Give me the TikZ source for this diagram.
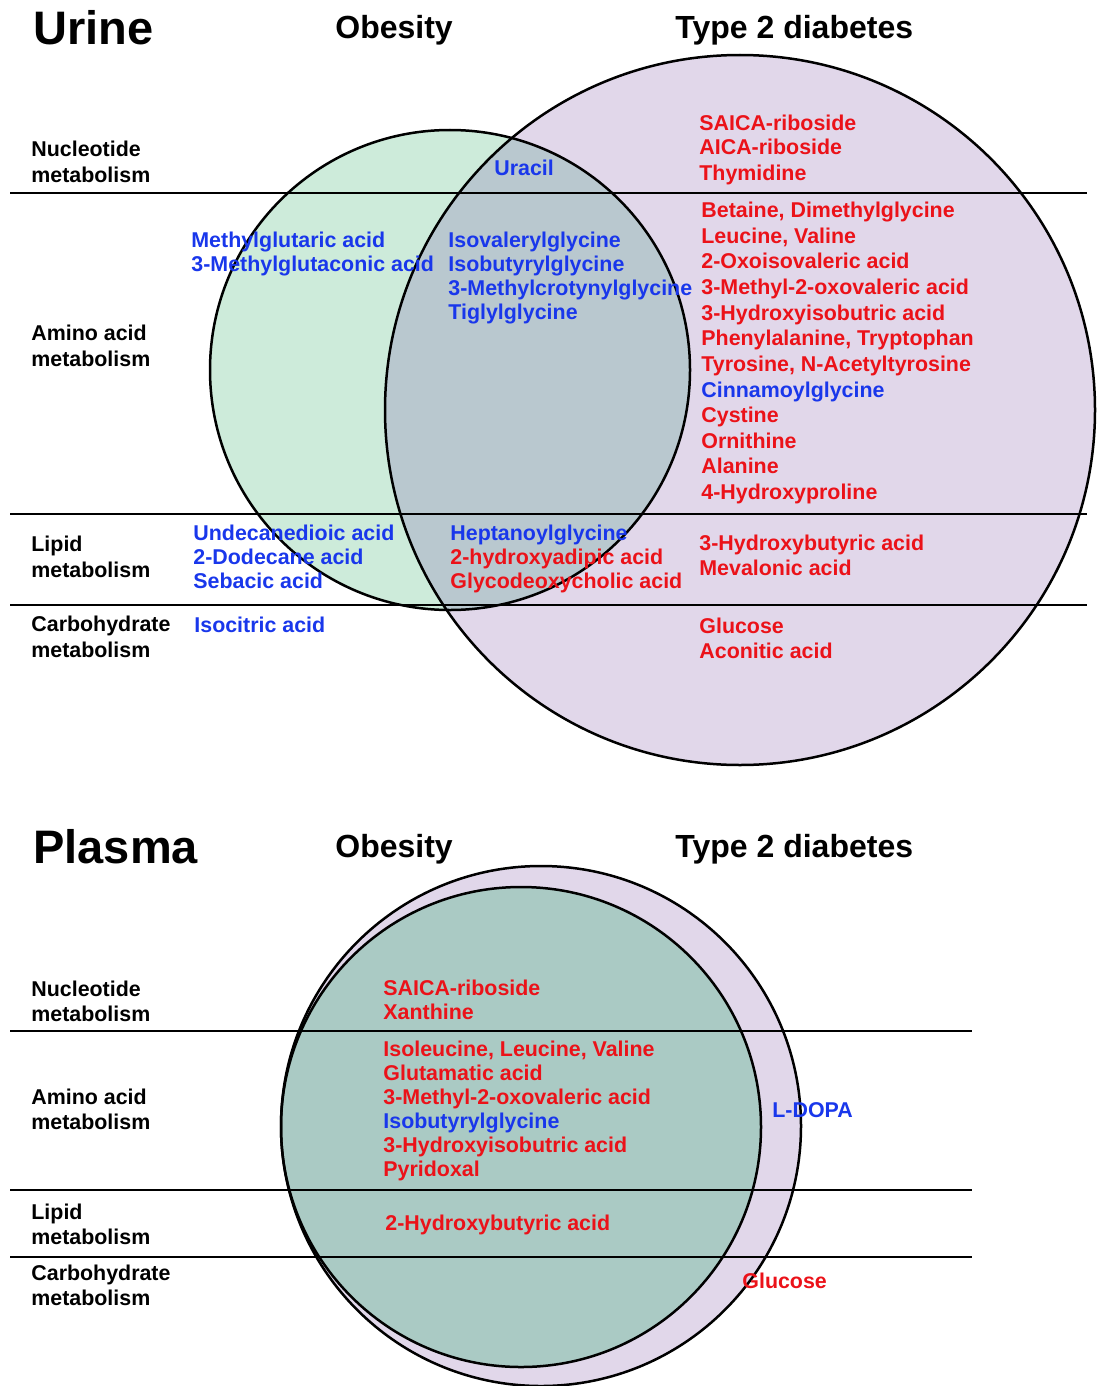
\documentclass[tikz,border=0pt]{standalone}
\usepackage{fontspec}
\setmainfont{Liberation Sans}
\definecolor{obgreen}{RGB}{205,235,218}
\definecolor{tdpurple}{RGB}{225,215,234}
\definecolor{ovlurine}{RGB}{185,200,207}
\definecolor{ovlplasma}{RGB}{170,202,196}
\definecolor{txtred}{RGB}{235,18,25}
\definecolor{txtblue}{RGB}{25,55,235}
\tikzset{
  body/.style={anchor=base west, inner sep=0pt, yshift=0.5pt, font=\fontsize{10.7}{13}\selectfont\bfseries},
  cat/.style={body, text=black},
  rtxt/.style={body, text=txtred},
  btxt/.style={body, text=txtblue},
  head/.style={anchor=base west, inner sep=0pt, font=\fontsize{16}{19}\selectfont\bfseries},
  bighead/.style={anchor=base west, inner sep=0pt, font=\fontsize{23.5}{28}\selectfont\bfseries},
  ring/.style={draw=black, line width=1.25pt},
  sep/.style={draw=black, line width=1pt}
}
\begin{document}
\begin{tikzpicture}[x=0.5pt,y=-0.5pt]
\useasboundingbox (0,0) rectangle (1099,1386);
% ---------------- URINE ----------------
\fill[obgreen] (450,370) circle (240);
\fill[tdpurple] (740,410) circle (355);
\begin{scope}
  \clip (450,370) circle (240);
  \fill[ovlurine] (740,410) circle (355);
\end{scope}
\draw[ring] (450,370) circle (240);
\draw[ring] (740,410) circle (355);
\coordinate (u1l) at (10,193); \coordinate (u1r) at (1087,193);
\coordinate (u2l) at (10,514); \coordinate (u2r) at (1087,514);
\coordinate (u3l) at (10,605); \coordinate (u3r) at (1087,605);
\draw[sep] (u1l) -- (u1r);
\draw[sep] (u2l) -- (u2r);
\draw[sep] (u3l) -- (u3r);

\node[bighead] (urine) at (33,45) {Urine};
\node[head] (uob) at (335,39) {Obesity};
\node[head] (utd) at (675,39) {Type 2 diabetes};

\node[cat] (un1) at (31,157) {Nucleotide};
\node[cat] (un2) at (31,183) {metabolism};
\node[cat] (ua1) at (31,341) {Amino acid};
\node[cat] (ua2) at (31,367) {metabolism};
\node[cat] (ul1) at (31,552) {Lipid};
\node[cat] (ul2) at (31,578) {metabolism};
\node[cat] (uc1) at (31,632) {Carbohydrate};
\node[cat] (uc2) at (31,658) {metabolism};

\node[btxt] (uracil) at (494,176) {Uracil};
\node[rtxt] (usaica) at (699,132) {SAICA-riboside};
\node[rtxt] (uaica) at (699,156) {AICA-riboside};
\node[rtxt] (uthy) at (699,181) {Thymidine};

\node[btxt] (umga) at (191,248) {Methylglutaric acid};
\node[btxt] (umgca) at (191,272) {3-Methylglutaconic acid};

\node[btxt] (uiva) at (448,248) {Isovalerylglycine};
\node[btxt] (uiby) at (448,272) {Isobutyrylglycine};
\node[btxt] (umcg) at (448,296) {3-Methylcrotynylglycine};
\node[btxt] (utig) at (448,320) {Tiglylglycine};

\node[rtxt] (ubet) at (701,218) {Betaine, Dimethylglycine};
\node[rtxt] (uleu) at (701,244) {Leucine, Valine};
\node[rtxt] (uoxo) at (701,269) {2-Oxoisovaleric acid};
\node[rtxt] (umeth) at (701,295) {3-Methyl-2-oxovaleric acid};
\node[rtxt] (uhib) at (701,321) {3-Hydroxyisobutric acid};
\node[rtxt] (uphe) at (701,346) {Phenylalanine, Tryptophan};
\node[rtxt] (utyr) at (701,372) {Tyrosine, N-Acetyltyrosine};
\node[btxt] (ucin) at (701,398) {Cinnamoylglycine};
\node[rtxt] (ucys) at (701,423) {Cystine};
\node[rtxt] (uorn) at (701,449) {Ornithine};
\node[rtxt] (uala) at (701,474) {Alanine};
\node[rtxt] (uhyp) at (701,500) {4-Hydroxyproline};

\node[btxt] (uund) at (193,541) {Undecanedioic acid};
\node[btxt] (udod) at (193,565) {2-Dodecane acid};
\node[btxt] (useb) at (193,589) {Sebacic acid};

\node[btxt] (uhep) at (450,541) {Heptanoylglycine};
\node[rtxt] (uhad) at (450,565) {2-hydroxyadipic acid};
\node[rtxt] (ugly) at (450,589) {Glycodeoxycholic acid};

\node[rtxt] (uhba) at (699,551) {3-Hydroxybutyric acid};
\node[rtxt] (umev) at (699,576) {Mevalonic acid};

\node[btxt] (uiso) at (194,633) {Isocitric acid};
\node[rtxt] (uglc) at (699,634) {Glucose};
\node[rtxt] (uaco) at (699,659) {Aconitic acid};

% ---------------- PLASMA ----------------
\fill[tdpurple] (541,1126) circle (260);
\fill[ovlplasma] (521,1127) circle (240);
\draw[ring] (541,1126) circle (260);
\draw[ring] (521,1127) circle (240);
\coordinate (p1l) at (10,1031); \coordinate (p1r) at (972,1031);
\coordinate (p2l) at (10,1190); \coordinate (p2r) at (972,1190);
\coordinate (p3l) at (10,1257); \coordinate (p3r) at (972,1257);
\draw[sep] (p1l) -- (p1r);
\draw[sep] (p2l) -- (p2r);
\draw[sep] (p3l) -- (p3r);

\node[bighead] (plasma) at (33,863) {Plasma};
\node[head] (pob) at (335,857) {Obesity};
\node[head] (ptd) at (675,857) {Type 2 diabetes};

\node[cat] (pn1) at (31,997) {Nucleotide};
\node[cat] (pn2) at (31,1022) {metabolism};
\node[cat] (pa1) at (31,1105) {Amino acid};
\node[cat] (pa2) at (31,1130) {metabolism};
\node[cat] (pl1) at (31,1220) {Lipid};
\node[cat] (pl2) at (31,1245) {metabolism};
\node[cat] (pc1) at (31,1281) {Carbohydrate};
\node[cat] (pc2) at (31,1306) {metabolism};

\node[rtxt] (psaica) at (383,996) {SAICA-riboside};
\node[rtxt] (pxan) at (383,1020) {Xanthine};
\node[rtxt] (pile) at (383,1057) {Isoleucine, Leucine, Valine};
\node[rtxt] (pglu) at (383,1081) {Glutamatic acid};
\node[rtxt] (pmeth) at (383,1105) {3-Methyl-2-oxovaleric acid};
\node[btxt] (piby) at (383,1129) {Isobutyrylglycine};
\node[rtxt] (phib) at (383,1153) {3-Hydroxyisobutric acid};
\node[rtxt] (ppyr) at (383,1177) {Pyridoxal};
\node[rtxt] (phba) at (385,1231) {2-Hydroxybutyric acid};
\node[btxt] (pdopa) at (772,1118) {L-DOPA};
\node[rtxt] (pglc) at (742,1289) {Glucose};
\end{tikzpicture}
\end{document}
